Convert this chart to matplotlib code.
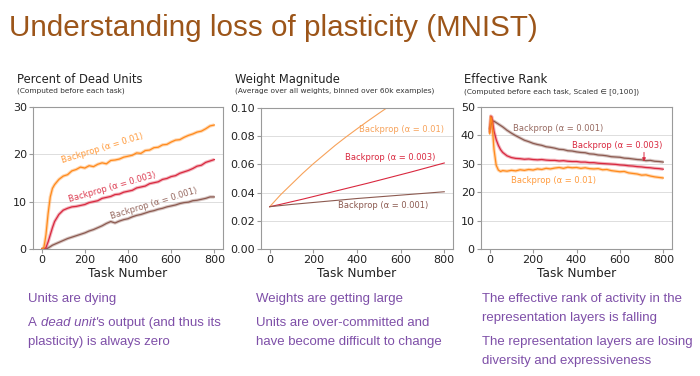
import matplotlib
matplotlib.use("Agg")
import matplotlib.pyplot as plt

# ---------------- data ----------------
tasks = [0, 5, 10, 15, 20, 30, 40, 50, 60, 80, 100, 120, 140, 160, 180, 200, 220, 240,
         260, 280, 300, 320, 340, 360, 380, 400, 420, 440, 460, 480, 500, 520, 540, 560,
         580, 600, 620, 640, 660, 680, 700, 720, 740, 760, 780, 800]

dead_a01 = [0, 0, 0.3, 1.5, 3.0, 7.5, 11.0, 12.8, 13.6, 14.7, 15.4, 15.7, 16.5, 16.8, 17.3, 17.1,
            17.6, 17.4, 17.9, 18.2, 18.0, 18.7, 18.8, 19.0, 19.4, 19.6, 19.8, 20.3, 20.2, 20.8,
            20.9, 21.4, 21.5, 22.0, 22.1, 22.6, 23.0, 23.1, 23.6, 24.0, 24.3, 24.7, 24.9, 25.4,
            26.0, 26.2]
dead_a003 = [0, 0, 0, 0.1, 0.3, 1.5, 3.0, 4.5, 5.8, 7.3, 8.2, 8.6, 8.9, 9.0, 9.2, 9.4, 9.8, 10.0,
             10.2, 10.7, 10.9, 11.1, 11.5, 11.6, 12.0, 12.2, 12.4, 12.9, 13.1, 13.3, 13.8, 14.0,
             14.2, 14.7, 14.9, 15.3, 15.5, 16.0, 16.3, 16.6, 17.0, 17.5, 17.7, 18.3, 18.6, 18.9]
dead_a001 = [0, 0, 0, 0, 0, 0.2, 0.5, 0.8, 1.0, 1.4, 1.8, 2.2, 2.5, 2.8, 3.1, 3.4, 3.8, 4.1, 4.5,
             4.9, 5.4, 5.8, 5.5, 5.9, 6.2, 6.4, 6.8, 7.1, 7.3, 7.6, 7.9, 8.1, 8.4, 8.6, 8.9, 9.1,
             9.3, 9.6, 9.8, 9.9, 10.2, 10.3, 10.5, 10.7, 11.0, 11.0]

wm_tasks = [0, 50, 100, 150, 200, 250, 300, 350, 400, 450, 500, 550, 600, 650, 700, 750, 800]
wm_a01 = [0.030, 0.0385, 0.046, 0.0535, 0.0605, 0.067, 0.0735, 0.0795, 0.0852, 0.0908, 0.0962,
          0.1015, 0.1065, 0.111, 0.1155, 0.120, 0.124]
wm_a003 = [0.030, 0.0317, 0.0335, 0.0353, 0.0372, 0.0391, 0.041, 0.0429, 0.0448, 0.0467, 0.0487,
           0.0507, 0.0527, 0.0547, 0.0568, 0.0589, 0.0610]
wm_a001 = [0.030, 0.0308, 0.0316, 0.0323, 0.0330, 0.0337, 0.0344, 0.0351, 0.0358, 0.0364, 0.0370,
           0.0376, 0.0382, 0.0388, 0.0394, 0.0400, 0.0406]

rank_a01 = [40.5, 46.5, 45.0, 40.0, 35.0, 29.5, 27.8, 27.3, 27.6, 27.4, 27.7, 27.5, 27.9, 27.7,
            28.0, 27.8, 28.2, 28.0, 28.4, 28.2, 28.5, 28.7, 28.4, 28.8, 28.6, 28.7, 28.4, 28.6,
            28.3, 28.2, 28.3, 27.9, 28.0, 27.6, 27.4, 27.2, 27.3, 26.8, 26.6, 26.4, 26.0, 26.1,
            25.7, 25.4, 25.2, 25.0]
rank_a003 = [41.0, 46.8, 46.5, 44.0, 41.5, 38.5, 36.5, 35.0, 34.0, 32.8, 32.2, 31.9, 31.8, 31.6,
             31.7, 31.5, 31.4, 31.5, 31.3, 31.2, 31.2, 31.0, 31.1, 30.9, 30.8, 30.8, 30.6, 30.6,
             30.4, 30.4, 30.2, 30.1, 30.0, 29.9, 29.8, 29.6, 29.5, 29.3, 29.2, 29.0, 28.9, 28.7,
             28.6, 28.4, 28.3, 28.1]
rank_a001 = [42.0, 43.5, 44.5, 45.0, 45.0, 44.5, 44.0, 43.5, 43.0, 41.8, 40.8, 39.9, 39.1, 38.3,
             37.8, 37.2, 36.8, 36.5, 36.0, 35.8, 35.5, 35.1, 35.0, 34.6, 34.5, 34.2, 34.0, 33.9,
             33.5, 33.4, 33.1, 33.0, 32.8, 32.5, 32.4, 32.3, 32.0, 31.9, 31.7, 31.5, 31.4, 31.1,
             31.2, 30.9, 30.8, 30.6]

labels = ["Backprop (α = 0.01)", "Backprop (α = 0.003)", "Backprop (α = 0.001)"]
x_ticks = [0, 200, 400, 600, 800]
dead_ticks = [0, 10, 20, 30]
wm_ticks = [0.00, 0.02, 0.04, 0.06, 0.08, 0.10]
rank_ticks = [0, 10, 20, 30, 40, 50]

panel_titles = ["Percent of Dead Units", "Weight Magnitude", "Effective Rank"]
panel_subtitles = ["(Computed before each task)",
                   "(Average over all weights, binned over 60k examples)",
                   "(Computed before each task, Scaled ∈ [0,100])"]
main_title = "Understanding loss of plasticity (MNIST)"
notes_col1 = ["Units are dying", None, "plasticity) is always zero"]
dead_unit_parts = ["A", "dead unit'", "s output (and thus its"]
notes_col2 = ["Weights are getting large", "Units are over-committed and",
              "have become difficult to change"]
notes_col3 = ["The effective rank of activity in the", "representation layers is falling",
              "The representation layers are losing", "diversity and expressiveness"]

# ---------------- style ----------------
C_OR = "#ff8a1c"
C_RD = "#d9283f"
C_BR = "#8c5a50"
C_OR_L = "#f7a25a"
PURPLE = "#7e4fa8"
BROWN_T = "#9c5519"
NOTE_FS = 9.5

W, H = 700, 376
fig = plt.figure(figsize=(7.0, 3.76), dpi=100)
fig.patch.set_facecolor("white")


def px(x, y):
    return x / W, 1 - y / H


def make_ax(left, right, top, bottom):
    ax = fig.add_axes([left / W, 1 - bottom / H, (right - left) / W, (bottom - top) / H])
    for s in ax.spines.values():
        s.set_color("#9a9a9a")
        s.set_linewidth(0.8)
    ax.tick_params(axis="both", labelsize=8, colors="#9a9a9a", labelcolor="#222222",
                   length=3, width=0.8, pad=1.5)
    ax.yaxis.grid(True, color="#dddddd", linewidth=0.7)
    ax.set_axisbelow(True)
    ax.set_xlim(-40, 840)
    ax.set_xticks(x_ticks)
    ax.set_xlabel("Task Number", fontsize=8.7, color="#222222", labelpad=1.0)
    return ax


def noisy(ax, x, y, c):
    ax.plot(x, y, color=c, lw=2.4, alpha=0.35, solid_capstyle="butt")
    ax.plot(x, y, color=c, lw=0.9)


# Panel 1
ax1 = make_ax(33, 223, 107, 249)
ax1.set_ylim(0, 30)
ax1.set_yticks(dead_ticks)
noisy(ax1, tasks, dead_a001, C_BR)
noisy(ax1, tasks, dead_a003, C_RD)
noisy(ax1, tasks, dead_a01, C_OR)
ax1.text(283, 21.3, labels[0], color=C_OR, fontsize=6, rotation=17, ha="center", va="center",
         rotation_mode="anchor", alpha=0.85)
ax1.text(328, 13.1, labels[1], color=C_RD, fontsize=6, rotation=16, ha="center", va="center",
         rotation_mode="anchor", alpha=0.9)
ax1.text(520, 9.7, labels[2], color=C_BR, fontsize=6, rotation=17, ha="center", va="center",
         rotation_mode="anchor", alpha=0.9)

# Panel 2
ax2 = make_ax(261, 453, 108, 249)
ax2.set_ylim(0, 0.10)
ax2.set_yticks(wm_ticks)
ax2.set_yticklabels([f"{v:.2f}" for v in wm_ticks])
ax2.plot(wm_tasks, wm_a01, color=C_OR_L, lw=0.8)
ax2.plot(wm_tasks, wm_a003, color=C_RD, lw=0.8)
ax2.plot(wm_tasks, wm_a001, color=C_BR, lw=0.8)
ax2.text(605, 0.085, labels[0], color=C_OR_L, fontsize=6, ha="center", va="center")
ax2.text(550, 0.065, labels[1], color=C_RD, fontsize=6, ha="center", va="center")
ax2.text(522, 0.0305, labels[2], color=C_BR, fontsize=6, ha="center", va="center")

# Panel 3
ax3 = make_ax(481, 672, 107, 249)
ax3.set_ylim(0, 50)
ax3.set_yticks(rank_ticks)
noisy(ax3, tasks, rank_a001, C_BR)
noisy(ax3, tasks, rank_a003, C_RD)
noisy(ax3, tasks, rank_a01, C_OR)
ax3.text(316, 42.6, labels[2], color=C_BR, fontsize=6, ha="center", va="center", alpha=0.9)
ax3.text(589, 36.6, labels[1], color=C_RD, fontsize=6, ha="center", va="center")
ax3.text(292, 24.0, labels[0], color=C_OR, fontsize=6, ha="center", va="center", alpha=0.85)
ax3.annotate("", xy=(711, 29.8), xytext=(711, 35.0),
             arrowprops=dict(arrowstyle="-|>", color=C_RD, lw=0.7, mutation_scale=5))

# Panel titles
for xp, t, st in zip([17, 235, 464], panel_titles, panel_subtitles):
    fig.text(*px(xp, 83), t, fontsize=8.3, color="#222222", ha="left", va="baseline")
    fig.text(*px(xp, 93), st, fontsize=5.35, color="#333333", ha="left", va="baseline")

# Main title
fig.text(*px(9, 36), main_title, fontsize=21.3, color=BROWN_T, family="Liberation Sans",
         ha="left", va="baseline")


# Notes
def note(xp, yp, s, style="normal"):
    return fig.text(*px(xp, yp), s, fontsize=NOTE_FS, color=PURPLE, family="Liberation Sans",
                    style=style, ha="left", va="baseline")


for s, yp in zip(notes_col1, [302, 326, 345]):
    if s is not None:
        note(28, yp, s)
for s, yp in zip(notes_col2, [302, 326, 345]):
    note(256, yp, s)
for s, yp in zip(notes_col3, [302, 321, 345, 364]):
    note(482, yp, s)

# mixed-style line: "A dead unit's output (and thus its"
renderer = fig.canvas.get_renderer()
space_px = NOTE_FS / 72 * 100 * 0.278
xcur = 28
for i, part in enumerate(dead_unit_parts):
    t = note(xcur, 326, part, style="italic" if i == 1 else "normal")
    bb = t.get_window_extent(renderer)
    xcur = bb.x1 + (space_px if i == 0 else 0)

fig.savefig("out.png", dpi=100, facecolor="white")
